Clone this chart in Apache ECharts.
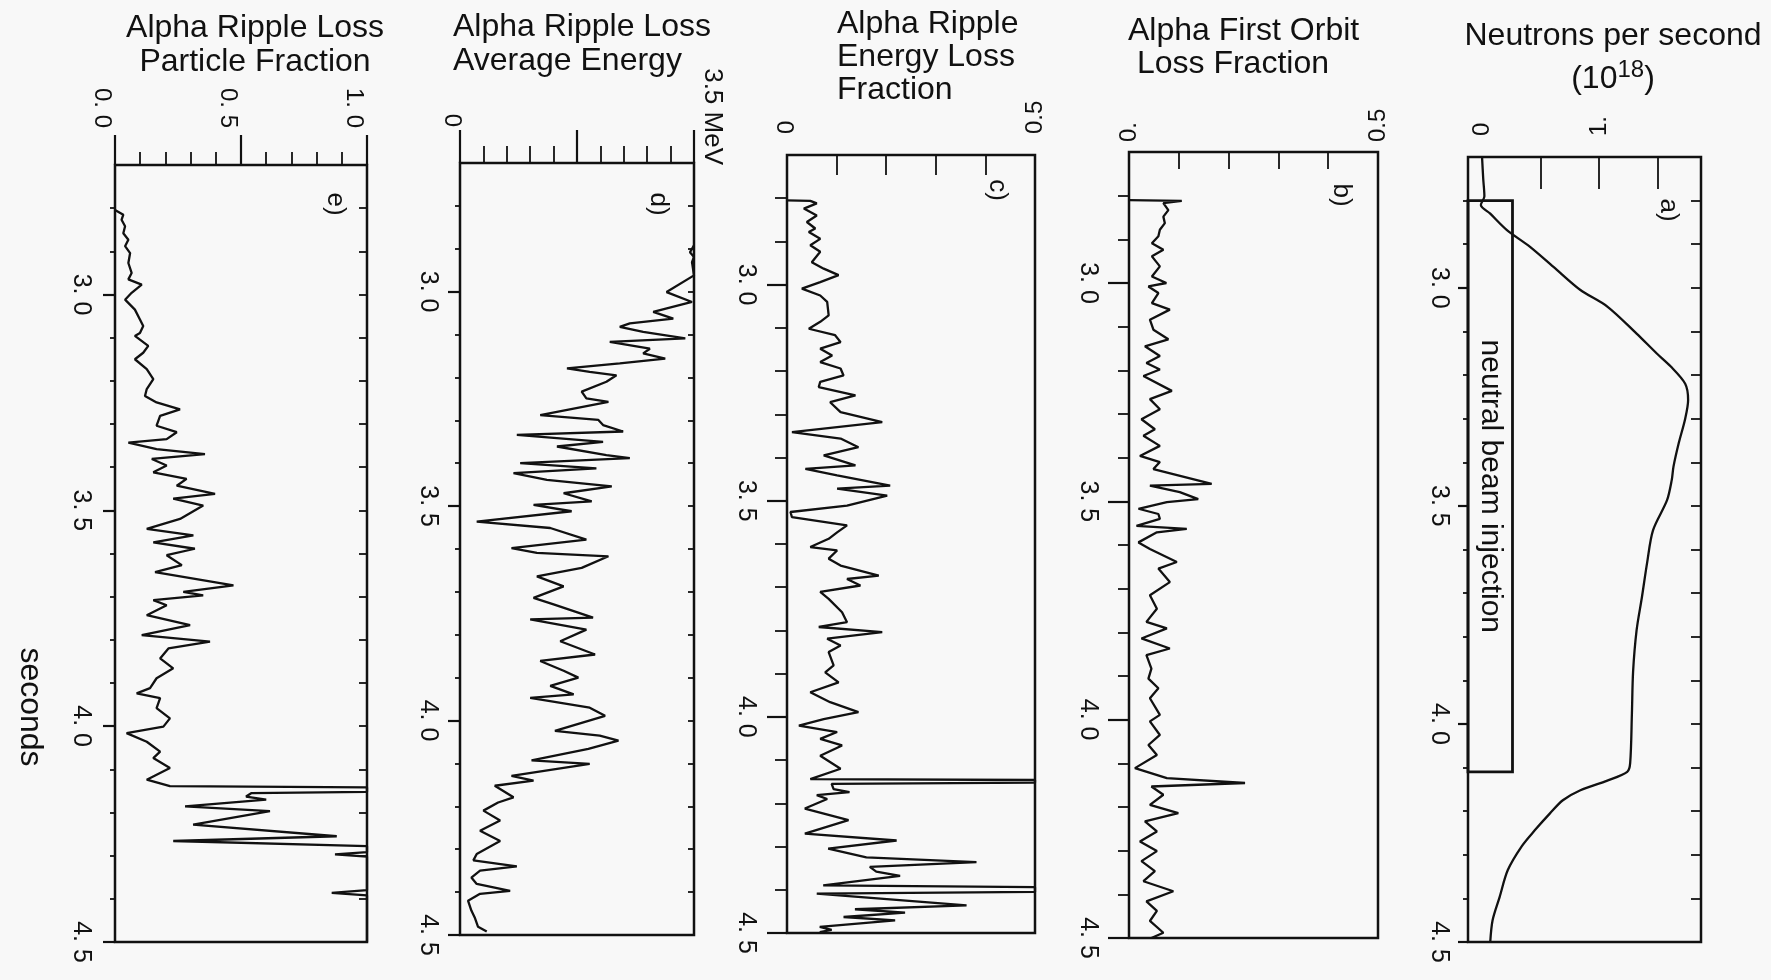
<!DOCTYPE html>
<html>
<head>
<meta charset="utf-8">
<script src="https://cdn.jsdelivr.net/npm/echarts@6/dist/echarts.min.js"></script>
<style>
  html, body { margin: 0; padding: 0; background: #f8f8f8; }
  #chart { width: 1771px; height: 980px; }
</style>
</head>
<body>
<div id="chart"></div>
<script>
// ---------------- time axis (seconds) ----------------
const timeRange = [2.7, 4.5];
const timeLabelValues = [3.0, 3.5, 4.0, 4.5];
const timeLabels = ['3. 0', '3. 5', '4. 0', '4. 5'];
const timeMinorTicks = [2.8, 2.9, 3.1, 3.2, 3.3, 3.4, 3.6, 3.7, 3.8, 3.9, 4.1, 4.2, 4.3, 4.4];
const timeAxisName = 'seconds';

// ---------------- panel titles / letters ----------------
const panelTitles = [
  'Neutrons per second\n(10{sup|18})',
  'Alpha First Orbit\n Loss Fraction',
  'Alpha Ripple\nEnergy Loss\nFraction',
  'Alpha Ripple Loss\nAverage Energy',
  'Alpha Ripple Loss\nParticle Fraction'
];
const panelLetters = ['a)', 'b)', 'c)', 'd)', 'e)'];

// ---------------- a) neutrons per second (1e18) ----------------
const neutronRange = [-0.12, 1.87];
const neutronLabelValues = [0, 1];
const neutronLabels = ['0', '1.'];
const neutronTicks = [0.5, 1.0, 1.5];
const neutronTime = [
  2.700, 2.750, 2.790, 2.810, 2.830, 2.867, 2.906, 2.952, 3.005, 3.043,
  3.105, 3.150, 3.180, 3.220, 3.257, 3.300, 3.356, 3.410, 3.441, 3.487,
  3.556, 3.630, 3.710, 3.785, 3.880, 3.975, 4.090, 4.110, 4.130, 4.152,
  4.175, 4.205, 4.244, 4.280, 4.335, 4.397, 4.450, 4.500
];
const neutronRate = [
  0.00, 0.01, 0.02, -0.01, 0.07, 0.21, 0.41, 0.61, 0.84, 1.07,
  1.32, 1.49, 1.61, 1.735, 1.76, 1.735, 1.68, 1.635, 1.62, 1.58,
  1.46, 1.41, 1.365, 1.32, 1.29, 1.28, 1.265, 1.24, 1.07, 0.84,
  0.69, 0.58, 0.45, 0.34, 0.22, 0.15, 0.09, 0.07
];
const nbiLabel = 'neutral beam injection';
const nbiStart = 2.80, nbiEnd = 4.11, nbiWidth = 0.26;

// ---------------- b) alpha first orbit loss fraction ----------------
const firstOrbitRange = [0, 0.5];
const firstOrbitLabelValues = [0, 0.5];
const firstOrbitLabels = ['0.', '0.5'];
const firstOrbitTicks = [0.1, 0.2, 0.3, 0.4];
const firstOrbitTime = [
  2.810, 2.812, 2.817, 2.833, 2.848, 2.863, 2.878, 2.893, 2.909, 2.924,
  2.939, 2.962, 2.985, 3.000, 3.008, 3.023, 3.046, 3.061, 3.084, 3.107,
  3.129, 3.145, 3.167, 3.183, 3.198, 3.213, 3.247, 3.266, 3.289, 3.312,
  3.335, 3.350, 3.373, 3.396, 3.410, 3.426, 3.460, 3.464, 3.479, 3.495,
  3.502, 3.517, 3.529, 3.540, 3.556, 3.563, 3.571, 3.594, 3.609, 3.639,
  3.654, 3.685, 3.715, 3.746, 3.776, 3.791, 3.814, 3.837, 3.852, 3.883,
  3.906, 3.928, 3.951, 3.989, 4.004, 4.035, 4.058, 4.081, 4.111, 4.134,
  4.145, 4.153, 4.172, 4.195, 4.214, 4.233, 4.256, 4.279, 4.301, 4.324,
  4.347, 4.370, 4.393, 4.416, 4.438, 4.461, 4.488, 4.500
];
const firstOrbitLoss = [
  0.000, 0.106, 0.069, 0.079, 0.069, 0.072, 0.062, 0.059, 0.046, 0.069,
  0.046, 0.062, 0.046, 0.075, 0.039, 0.059, 0.046, 0.082, 0.042, 0.049,
  0.079, 0.032, 0.062, 0.035, 0.062, 0.029, 0.086, 0.042, 0.062, 0.025,
  0.052, 0.029, 0.062, 0.022, 0.062, 0.049, 0.166, 0.042, 0.102, 0.139,
  0.076, 0.019, 0.059, 0.062, 0.015, 0.116, 0.056, 0.019, 0.042, 0.096,
  0.059, 0.082, 0.042, 0.056, 0.035, 0.076, 0.025, 0.082, 0.035, 0.045,
  0.039, 0.059, 0.042, 0.062, 0.042, 0.062, 0.039, 0.056, 0.012, 0.076,
  0.233, 0.045, 0.069, 0.042, 0.099, 0.032, 0.056, 0.022, 0.056, 0.025,
  0.052, 0.029, 0.089, 0.035, 0.056, 0.042, 0.069, 0.045
];

// ---------------- c) alpha ripple energy loss fraction ----------------
const energyLossRange = [0, 0.5];
const energyLossLabelValues = [0, 0.5];
const energyLossLabels = ['0', '0.5'];
const energyLossTicks = [0.1, 0.2, 0.3, 0.4];
const energyLossTime = [
  2.805, 2.806, 2.812, 2.824, 2.840, 2.855, 2.870, 2.878, 2.894, 2.909,
  2.924, 2.948, 2.963, 2.978, 2.994, 3.009, 3.025, 3.040, 3.071, 3.086,
  3.102, 3.117, 3.133, 3.148, 3.164, 3.179, 3.194, 3.210, 3.225, 3.237,
  3.256, 3.272, 3.295, 3.318, 3.341, 3.356, 3.376, 3.395, 3.418, 3.426,
  3.441, 3.465, 3.472, 3.488, 3.511, 3.526, 3.538, 3.557, 3.573, 3.588,
  3.607, 3.615, 3.634, 3.650, 3.673, 3.681, 3.696, 3.711, 3.727, 3.758,
  3.781, 3.792, 3.804, 3.819, 3.835, 3.850, 3.881, 3.897, 3.920, 3.943,
  3.966, 3.989, 4.005, 4.020, 4.035, 4.051, 4.066, 4.090, 4.120, 4.144,
  4.146, 4.152, 4.155, 4.167, 4.174, 4.181, 4.190, 4.212, 4.239, 4.270,
  4.286, 4.305, 4.325, 4.336, 4.347, 4.358, 4.368, 4.390, 4.394, 4.405,
  4.409, 4.436, 4.445, 4.453, 4.463, 4.471, 4.486, 4.493, 4.498
];
const energyLossFraction = [
  0.000, 0.047, 0.060, 0.034, 0.060, 0.040, 0.057, 0.044, 0.067, 0.047,
  0.067, 0.050, 0.074, 0.104, 0.067, 0.030, 0.067, 0.081, 0.084, 0.067,
  0.044, 0.097, 0.108, 0.067, 0.091, 0.067, 0.108, 0.114, 0.067, 0.064,
  0.138, 0.087, 0.108, 0.192, 0.010, 0.108, 0.144, 0.074, 0.138, 0.037,
  0.101, 0.208, 0.101, 0.202, 0.121, 0.007, 0.010, 0.121, 0.101, 0.084,
  0.047, 0.101, 0.084, 0.108, 0.185, 0.121, 0.148, 0.067, 0.084, 0.111,
  0.121, 0.064, 0.192, 0.081, 0.108, 0.084, 0.094, 0.077, 0.104, 0.047,
  0.087, 0.144, 0.074, 0.024, 0.101, 0.067, 0.111, 0.067, 0.108, 0.047,
  0.500, 0.500, 0.090, 0.094, 0.126, 0.060, 0.081, 0.036, 0.124, 0.036,
  0.221, 0.083, 0.160, 0.382, 0.167, 0.180, 0.228, 0.073, 0.500, 0.500,
  0.060, 0.362, 0.137, 0.238, 0.114, 0.218, 0.066, 0.090, 0.066
];

// ---------------- d) alpha ripple loss average energy (MeV) ----------------
const avgEnergyRange = [0, 3.5];
const avgEnergyLabelValues = [0, 3.5];
const avgEnergyLabels = ['0', '3.5 MeV'];
const avgEnergyMinorTicks = [0.35, 0.7, 1.05, 1.4, 2.1, 2.45, 2.8, 3.15];
const avgEnergyMajorTicks = [0, 1.75, 3.5];
const avgEnergyTime = [
  2.892, 2.908, 2.919, 2.931, 2.962, 3.001, 3.024, 3.047, 3.063, 3.074,
  3.082, 3.094, 3.109, 3.117, 3.133, 3.144, 3.156, 3.167, 3.179, 3.187,
  3.195, 3.210, 3.233, 3.249, 3.257, 3.288, 3.299, 3.311, 3.326, 3.334,
  3.350, 3.361, 3.381, 3.388, 3.400, 3.412, 3.423, 3.439, 3.454, 3.470,
  3.489, 3.497, 3.512, 3.536, 3.551, 3.578, 3.598, 3.609, 3.617, 3.644,
  3.664, 3.687, 3.714, 3.729, 3.760, 3.764, 3.788, 3.815, 3.846, 3.861,
  3.884, 3.900, 3.919, 3.939, 3.947, 3.970, 3.989, 4.024, 4.035, 4.047,
  4.066, 4.093, 4.101, 4.129, 4.140, 4.152, 4.179, 4.191, 4.210, 4.233,
  4.257, 4.281, 4.311, 4.326, 4.340, 4.350, 4.366, 4.381, 4.397, 4.404,
  4.420, 4.443, 4.459, 4.481, 4.492
];
const avgEnergy = [
  3.50, 3.44, 3.50, 3.47, 3.50, 3.09, 3.47, 2.89, 3.19, 2.54,
  2.39, 2.74, 3.37, 2.24, 2.84, 2.74, 3.07, 2.39, 1.60, 1.94,
  2.34, 2.19, 1.82, 1.89, 2.22, 1.20, 2.07, 2.14, 2.44, 0.85,
  2.14, 1.45, 2.19, 2.54, 0.90, 2.04, 0.80, 1.30, 2.27, 1.55,
  1.97, 1.10, 1.67, 0.25, 1.35, 1.89, 0.77, 1.15, 2.22, 1.82,
  1.15, 1.55, 1.10, 1.40, 1.99, 1.05, 1.89, 1.50, 2.02, 1.20,
  1.55, 1.77, 1.35, 1.70, 1.05, 1.94, 2.17, 1.42, 2.09, 2.37,
  1.92, 1.07, 1.94, 0.77, 1.10, 0.52, 0.80, 0.57, 0.35, 0.60,
  0.30, 0.60, 0.25, 0.20, 0.85, 0.30, 0.17, 0.25, 0.75, 0.30,
  0.12, 0.17, 0.22, 0.27, 0.40
];

// ---------------- e) alpha ripple loss particle fraction ----------------
const particleRange = [0, 1.0];
const particleLabelValues = [0, 0.5, 1.0];
const particleLabels = ['0. 0', '0. 5', '1. 0'];
const particleMinorTicks = [0.1, 0.2, 0.3, 0.4, 0.6, 0.7, 0.8, 0.9];
const particleMajorTicks = [0, 0.5, 1.0];
const particleTime = [
  2.804, 2.815, 2.827, 2.842, 2.858, 2.873, 2.888, 2.904, 2.927, 2.950,
  2.965, 2.977, 2.996, 3.012, 3.035, 3.058, 3.073, 3.089, 3.096, 3.119,
  3.135, 3.150, 3.173, 3.196, 3.219, 3.235, 3.250, 3.266, 3.281, 3.304,
  3.319, 3.335, 3.343, 3.358, 3.370, 3.381, 3.396, 3.412, 3.427, 3.443,
  3.462, 3.473, 3.489, 3.520, 3.543, 3.558, 3.574, 3.589, 3.604, 3.627,
  3.643, 3.674, 3.689, 3.697, 3.708, 3.720, 3.743, 3.766, 3.789, 3.804,
  3.820, 3.843, 3.866, 3.889, 3.912, 3.924, 3.935, 3.958, 3.982, 4.001,
  4.016, 4.036, 4.059, 4.074, 4.097, 4.124, 4.139, 4.142, 4.152, 4.155,
  4.163, 4.170, 4.186, 4.197, 4.228, 4.255, 4.266, 4.278, 4.292, 4.297,
  4.302, 4.380, 4.386, 4.392, 4.500
];
const particleFraction = [
  0.000, 0.033, 0.026, 0.040, 0.033, 0.053, 0.040, 0.060, 0.053, 0.066,
  0.053, 0.106, 0.066, 0.040, 0.079, 0.099, 0.112, 0.099, 0.079, 0.132,
  0.112, 0.079, 0.126, 0.152, 0.126, 0.119, 0.165, 0.258, 0.179, 0.165,
  0.245, 0.205, 0.053, 0.165, 0.357, 0.146, 0.205, 0.152, 0.284, 0.245,
  0.397, 0.231, 0.350, 0.258, 0.126, 0.311, 0.152, 0.317, 0.205, 0.265,
  0.159, 0.470, 0.271, 0.350, 0.152, 0.205, 0.126, 0.298, 0.106, 0.377,
  0.212, 0.179, 0.231, 0.165, 0.139, 0.086, 0.179, 0.165, 0.218, 0.192,
  0.046, 0.126, 0.179, 0.152, 0.218, 0.126, 0.218, 1.000, 1.000, 0.542,
  0.520, 0.600, 0.278, 0.615, 0.310, 0.880, 0.231, 1.000, 1.000, 0.873,
  1.000, 1.000, 0.860, 1.000, 1.000
];

// ---------------- styling / layout ----------------
const FONT = "'Liberation Sans', Arial, Helvetica, sans-serif";
const INK = '#111111';

// axisLabels: drawn by the axis; floatLabels: tick labels offset from their tick (placed through the axis scale)
const panels = [
  { grid: { left: 1468, top: 157, width: 233, height: 785 },
    range: neutronRange,
    axisLabels: { values: neutronLabelValues, labels: neutronLabels, margin: 21 },
    topMinor: neutronTicks, topMajor: [], topInside: true, topMinorLen: 32, topMajorLen: 0,
    timeMargin: 17, leftMajorLen: 10, leftMinorLen: 5, rightLen: 10,
    time: neutronTime, values: neutronRate, smooth: 0.3,
    title: { left: 1613, top: 15, align: 'center', lineHeight: 43 }, letter: [1668, 210] },
  { grid: { left: 1129, top: 152, width: 249, height: 786 },
    range: firstOrbitRange,
    axisLabels: { values: firstOrbitLabelValues, labels: firstOrbitLabels, margin: 10 },
    topMinor: firstOrbitTicks, topMajor: [], topInside: true, topMinorLen: 17, topMajorLen: 0,
    timeMargin: 29, leftMajorLen: 21, leftMinorLen: 11, rightLen: 0,
    time: firstOrbitTime, values: firstOrbitLoss,
    title: { left: 1128, top: 15, align: 'left', lineHeight: 33 }, letter: [1341, 195] },
  { grid: { left: 787, top: 155, width: 248, height: 778 },
    range: energyLossRange,
    axisLabels: { values: energyLossLabelValues, labels: energyLossLabels, margin: 21 },
    topMinor: energyLossTicks, topMajor: [], topInside: true, topMinorLen: 20, topMajorLen: 0,
    timeMargin: 29, leftMajorLen: 20, leftMinorLen: 12, rightLen: 0,
    time: energyLossTime, values: energyLossFraction,
    title: { left: 837, top: 8, align: 'left', lineHeight: 33 }, letter: [997, 190] },
  { grid: { left: 460, top: 163, width: 234, height: 772 },
    range: avgEnergyRange,
    floatLabels: [
      { values: avgEnergyLabelValues.slice(0, 1), labels: avgEnergyLabels.slice(0, 1), margin: 36, dx: -8, size: 24 },
      { values: avgEnergyLabelValues.slice(1), labels: avgEnergyLabels.slice(1), margin: -2, dx: 18, size: 26 }
    ],
    topMinor: avgEnergyMinorTicks, topMajor: avgEnergyMajorTicks, topInside: false, topMinorLen: 17, topMajorLen: 33,
    timeMargin: 20, leftMajorLen: 12, leftMinorLen: 5, rightLen: 6,
    time: avgEnergyTime, values: avgEnergy,
    title: { left: 453, top: 10, align: 'left', lineHeight: 34 }, letter: [658, 204] },
  { grid: { left: 115, top: 165, width: 252, height: 777 },
    range: particleRange,
    floatLabels: [
      { values: particleLabelValues, labels: particleLabels, margin: 37, dx: -13, size: 24 }
    ],
    topMinor: particleMinorTicks, topMajor: particleMajorTicks, topInside: false, topMinorLen: 13, topMajorLen: 30,
    timeMargin: 22, leftMajorLen: 12, leftMinorLen: 5, rightLen: 8,
    time: particleTime, values: particleFraction,
    title: { left: 255, top: 11, align: 'center', lineHeight: 34 }, letter: [335, 204] }
];

function findLabel(values, labels, v) {
  for (let i = 0; i < values.length; i++) {
    if (Math.abs(values[i] - v) < 1e-6) return labels[i];
  }
  return '';
}
const tickLine = w => ({ color: INK, width: w });
function valueLabel(set) {
  if (!set) return { show: false };
  return {
    show: true, customValues: set.values, rotate: -90, margin: set.margin,
    color: INK, fontFamily: FONT, fontSize: set.fontSize || 24,
    formatter: v => findLabel(set.values, set.labels, v)
  };
}
function rotatedText(id, text, x, y, size, align) {
  return {
    type: 'text', id: id, x: x, y: y, rotation: -Math.PI / 2, silent: true,
    style: { text: text, x: 0, y: 0, textAlign: align || 'center', textVerticalAlign: 'middle',
             font: size + 'px ' + FONT, fill: INK }
  };
}

const grid = [], xAxis = [], yAxis = [], series = [], title = [], graphic = [];

panels.forEach((p, gi) => {
  grid.push(Object.assign({ show: true, borderColor: INK, borderWidth: 2.5, backgroundColor: 'transparent', containLabel: false }, p.grid));

  // value axis (top): minor ticks + labels
  const xi = xAxis.length;
  p.xi = xi;
  xAxis.push({
    gridIndex: gi, type: 'value', position: 'top', min: p.range[0], max: p.range[1],
    axisLine: { show: false, onZero: false }, splitLine: { show: false },
    axisTick: { show: true, customValues: p.topMinor, inside: p.topInside, length: p.topMinorLen, lineStyle: tickLine(1.8) },
    axisLabel: valueLabel(p.axisLabels)
  });
  // value axis (top): major ticks
  xAxis.push({
    gridIndex: gi, type: 'value', position: 'top', min: p.range[0], max: p.range[1],
    axisLine: { show: false, onZero: false }, splitLine: { show: false }, axisLabel: { show: false },
    axisTick: { show: p.topMajor.length > 0, customValues: p.topMajor, inside: p.topInside, length: p.topMajorLen, lineStyle: tickLine(2.2) }
  });

  // time axis (left): minor ticks + labels
  const yi = yAxis.length;
  yAxis.push({
    gridIndex: gi, type: 'value', position: 'left', inverse: true, min: timeRange[0], max: timeRange[1],
    axisLine: { show: false, onZero: false }, splitLine: { show: false },
    axisTick: { show: true, customValues: timeMinorTicks, length: p.leftMinorLen, lineStyle: tickLine(1.8) },
    axisLabel: {
      show: true, customValues: timeLabelValues, rotate: -90, margin: p.timeMargin,
      color: INK, fontFamily: FONT, fontSize: 25,
      formatter: v => findLabel(timeLabelValues, timeLabels, v)
    }
  });
  // time axis (left): major ticks
  yAxis.push({
    gridIndex: gi, type: 'value', position: 'left', inverse: true, min: timeRange[0], max: timeRange[1],
    axisLine: { show: false, onZero: false }, splitLine: { show: false }, axisLabel: { show: false },
    axisTick: { show: true, customValues: timeLabelValues, length: p.leftMajorLen, lineStyle: tickLine(2.2) }
  });
  // time axis (right): inner ticks
  if (p.rightLen) {
    yAxis.push({
      gridIndex: gi, type: 'value', position: 'right', inverse: true, min: timeRange[0], max: timeRange[1],
      axisLine: { show: false, onZero: false }, splitLine: { show: false }, axisLabel: { show: false },
      axisTick: { show: true, inside: true, customValues: timeMinorTicks.concat(timeLabelValues), length: p.rightLen, lineStyle: tickLine(1.8) }
    });
  }

  const s = {
    type: 'line', xAxisIndex: xi, yAxisIndex: yi,
    data: p.time.map((t, k) => [p.values[k], t]),
    showSymbol: false, symbol: 'none', smooth: p.smooth || false, clip: true, silent: true,
    lineStyle: { color: INK, width: 2.3 }, animation: false
  };
  if (gi === 0) {
    s.markArea = {
      silent: true,
      itemStyle: { color: 'rgba(0,0,0,0)', borderColor: INK, borderWidth: 2.8 },
      label: { show: true, position: 'inside', rotate: -90, color: INK, fontFamily: FONT, fontSize: 30, formatter: nbiLabel },
      data: [[{ coord: [neutronRange[0], nbiStart] }, { coord: [nbiWidth, nbiEnd] }]]
    };
  }
  series.push(s);

  title.push({
    text: panelTitles[gi], left: p.title.left, top: p.title.top, textAlign: p.title.align, padding: 0,
    textStyle: {
      fontSize: 32, fontWeight: 'normal', fontFamily: FONT, color: INK, lineHeight: p.title.lineHeight,
      rich: { sup: { fontSize: 24, lineHeight: 22, verticalAlign: 'top', fontFamily: FONT, color: INK } }
    }
  });

  graphic.push(rotatedText('letter' + gi, panelLetters[gi], p.letter[0], p.letter[1], 26));
});

graphic.push(rotatedText('timeName', timeAxisName, 30, 707, 32));

const chart = echarts.init(document.getElementById('chart'), null, { renderer: 'canvas' });
chart.setOption({
  backgroundColor: '#f8f8f8',
  animation: false,
  title: title,
  grid: grid,
  xAxis: xAxis,
  yAxis: yAxis,
  series: series,
  graphic: graphic
});

// offset tick labels: positioned from the axis scale, then nudged like the original
const floatTexts = [];
panels.forEach((p, gi) => {
  (p.floatLabels || []).forEach((set, si) => {
    set.values.forEach((v, k) => {
      const px = chart.convertToPixel({ xAxisIndex: p.xi }, v);
      floatTexts.push(rotatedText('tl' + gi + '_' + si + '_' + k, set.labels[k],
        px + set.dx, p.grid.top - set.margin, set.size, 'right'));
    });
  });
});
chart.setOption({ graphic: graphic.concat(floatTexts) });
</script>
</body>
</html>
